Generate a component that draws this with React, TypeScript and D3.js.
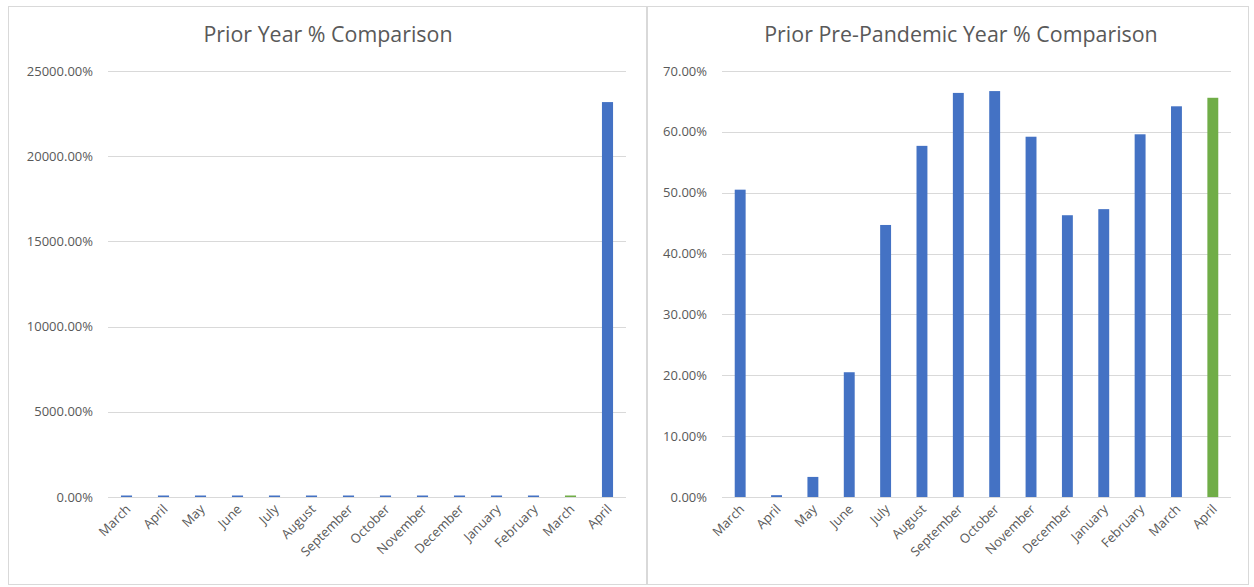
import * as d3 from "d3";

const months = ["March", "April", "May", "June", "July", "August", "September", "October", "November", "December", "January", "February", "March", "April"];
const keys = months.map((m, i) => `${i}-${m}`);

const priorYear = [75, 75, 75, 75, 75, 75, 75, 75, 75, 75, 75, 75, 75, 23176];
const prePandemic = [50.5, 0.3, 3.3, 20.5, 44.7, 57.7, 66.4, 66.7, 59.2, 46.3, 47.3, 59.6, 64.2, 65.6];

const leftTicks = [0, 5000, 10000, 15000, 20000, 25000];
const rightTicks = [0, 10, 20, 30, 40, 50, 60, 70];

const leftColors = priorYear.map((_, i) => (i === 12 ? "#70ad47" : "#4472c4"));
const rightColors = prePandemic.map((_, i) => (i === 13 ? "#70ad47" : "#4472c4"));

const FONT = "'Open Sans', 'Noto Sans', sans-serif";
const TEXT = "#595959";

type PanelProps = {
  x0: number;
  x1: number;
  plotLeft: number;
  plotRight: number;
  titleX: number;
  title: string;
  values: number[];
  colors: string[];
  ticks: number[];
  maxY: number;
};

const Panel = ({ x0, x1, plotLeft, plotRight, titleX, title, values, colors, ticks, maxY }: PanelProps) => {
  const top = 71;
  const bottom = 497;
  const x = d3.scaleBand().domain(keys).range([plotLeft, plotRight]).paddingInner(0.7).paddingOuter(0.35);
  const y = d3.scaleLinear().domain([0, maxY]).range([bottom, top]);

  return (
    <g>
      <rect x={x0 + 0.5} y={6.5} width={x1 - x0} height={578} fill="#fff" stroke="#d9d9d9" />
      <text x={titleX} y={42} textAnchor="middle" fontSize={21.4} fill={TEXT} fontFamily={FONT}>
        {title}
      </text>
      {ticks.map((t) => (
        <g key={t}>
          <line x1={plotLeft} x2={plotRight} y1={Math.round(y(t)) + 0.5} y2={Math.round(y(t)) + 0.5} stroke="#d9d9d9" />
          <text x={plotLeft - 15} y={y(t) + 4.5} textAnchor="end" fontSize={13} fill={TEXT} fontFamily={FONT}>
            {t.toFixed(2)}%
          </text>
        </g>
      ))}
      {values.map((v, i) => {
        const h = Math.max(1.5, bottom - y(v));
        return <rect key={keys[i]} x={x(keys[i])} y={bottom - h} width={x.bandwidth()} height={h} fill={colors[i]} />;
      })}
      {months.map((m, i) => {
        const cx = (x(keys[i]) as number) + x.bandwidth() / 2 + 5;
        return (
          <text
            key={keys[i]}
            transform={`translate(${cx},${bottom + 13}) rotate(-45)`}
            textAnchor="end"
            fontSize={13}
            fill={TEXT}
            fontFamily={FONT}
          >
            {m}
          </text>
        );
      })}
    </g>
  );
};

export default function App() {
  return (
    <div style={{ position: "absolute", left: 0, top: 0 }}>
      <svg width={1254} height={587} style={{ display: "block" }}>
        <rect width={1254} height={587} fill="#fff" />
        <Panel
          x0={8}
          x1={646}
          plotLeft={108}
          plotRight={626}
          titleX={328}
          title="Prior Year % Comparison"
          values={priorYear}
          colors={leftColors}
          ticks={leftTicks}
          maxY={25000}
        />
        <Panel
          x0={647}
          x1={1248}
          plotLeft={722}
          plotRight={1231}
          titleX={961}
          title="Prior Pre-Pandemic Year % Comparison"
          values={prePandemic}
          colors={rightColors}
          ticks={rightTicks}
          maxY={70}
        />
      </svg>
    </div>
  );
}
